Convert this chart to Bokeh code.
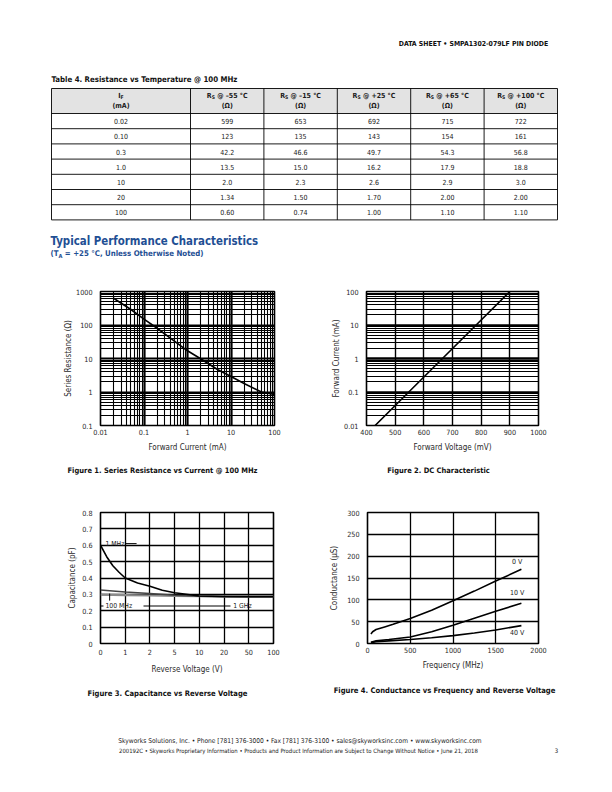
import numpy as np
from bokeh.plotting import figure
from bokeh.layouts import column, row
from bokeh.models import Range1d, FixedTicker, CustomJSTickFormatter
from bokeh.core.properties import value
from bokeh.embed import file_html
from bokeh.resources import INLINE

FONT = "'DejaVu Sans Condensed', 'DejaVu Sans', sans-serif"
BLUE = "#1f4f94"
INK = "#1a1a1a"
NB = "\u00a0"

# ---------------- data ----------------
table_title = "Table 4. Resistance vs Temperature @ 100 MHz"
table_if = ["0.02", "0.10", "0.3", "1.0", "10", "20", "100"]
table_temps = ["–55", "–15", "+25", "+65", "+100"]
rs_m55 = ["599", "123", "42.2", "13.5", "2.0", "1.34", "0.60"]
rs_m15 = ["653", "135", "46.6", "15.0", "2.3", "1.50", "0.74"]
rs_p25 = ["692", "143", "49.7", "16.2", "2.6", "1.70", "1.00"]
rs_p65 = ["715", "154", "54.3", "17.9", "2.9", "2.00", "1.10"]
rs_p100 = ["722", "161", "56.8", "18.8", "3.0", "2.00", "1.10"]

# Figure 1: series resistance vs forward current
f1_if = [0.02, 0.05, 0.1, 0.2, 0.5, 1, 2, 5, 10, 20, 50, 100]
f1_rs = [630, 290, 150, 80, 33, 17, 9.8, 4.6, 2.9, 1.8, 1.0, 0.85]
f1_xticks = [0.01, 0.1, 1, 10, 100]
f1_yticks = [0.1, 1, 10, 100, 1000]

# Figure 2: DC characteristic
f2_vf = [430, 665, 900]
f2_if = [0.01, 1, 100]
f2_xticks = [400, 500, 600, 700, 800, 900, 1000]
f2_yticks = [0.01, 0.1, 1, 10, 100]

# Figure 3: capacitance vs reverse voltage
f3_tick_v = [0, 1, 2, 5, 10, 20, 50, 100]
f3_tick_labels = ["0", "1", "2", "5", "10", "20", "50", "100"]
f3_v_1mhz = [0, 0.25, 0.5, 0.75, 1, 1.5, 2, 3.5, 5, 10, 20, 50, 100]
f3_c_1mhz = [0.60, 0.53, 0.475, 0.435, 0.40, 0.37, 0.35, 0.325, 0.31, 0.29, 0.287, 0.286, 0.286]
f3_v_100mhz = [0, 1, 2, 5, 10, 20, 50, 100]
f3_c_100mhz = [0.326, 0.315, 0.305, 0.295, 0.288, 0.286, 0.286, 0.286]
f3_v_1ghz = [0, 1, 2, 5, 10, 20, 50, 100]
f3_c_1ghz = [0.298, 0.296, 0.293, 0.29, 0.289, 0.288, 0.287, 0.287]
f3_yticks = [0, 0.1, 0.2, 0.3, 0.4, 0.5, 0.6, 0.7, 0.8]

# Figure 4: conductance vs frequency
f4_f0 = [40, 60, 100, 200, 300, 500, 750, 1000, 1250, 1500, 1800]
f4_g0 = [22, 27, 32, 38, 44, 57, 76, 98, 120, 143, 170]
f4_f10 = [40, 100, 250, 500, 750, 1000, 1250, 1500, 1800]
f4_g10 = [3, 6, 9, 15, 27, 42, 58, 74, 92]
f4_f40 = [40, 100, 250, 500, 750, 1000, 1250, 1500, 1800]
f4_g40 = [2, 4, 6, 9, 13, 18, 24, 31, 41]
f4_xticks = [0, 500, 1000, 1500, 2000]
f4_yticks = [0, 50, 100, 150, 200, 250, 300]

# ---------------- helpers ----------------
# approximate DejaVu Sans advance widths (per 1000 em)
W_REG = {' ': 318, NB: 318, '@': 1000, '–': 500, '°': 500, 'C': 698, 'R': 695, 'S': 635, 'I': 295,
         'F': 575, 'A': 684, '+': 838, '(': 390, ')': 390, '=': 838, ',': 318, 'T': 611, '.': 318,
         'U': 732, 'n': 634, 'l': 278, 'e': 615, 's': 521, 'O': 787, 't': 392, 'h': 634, 'r': 411,
         'w': 818, 'i': 278, 'N': 748, 'o': 612, 'd': 635}
W_BOLD = {' ': 348, NB: 348, '@': 1000, '–': 500, '°': 500, 'C': 734, 'R': 770, 'S': 720, 'I': 372,
          'F': 683, 'A': 774, '+': 838, '(': 457, ')': 457, '=': 838, ',': 380, 'T': 682, '.': 380,
          'U': 812, 'n': 712, 'l': 343, 'e': 678, 's': 595, 'O': 850, 't': 478, 'h': 712, 'r': 493,
          'w': 924, 'i': 343, 'N': 837, 'o': 687, 'd': 716}


def tw(s, size, bold):
    d = W_BOLD if bold else W_REG
    dflt = 696 if bold else 636
    return sum(d.get(c, dflt) for c in s) / 1000.0 * size * 0.9


def add_text(p, x, y, s, size, bold=False, color=INK, align="left"):
    p.text(x=[x], y=[y], text=[s], text_font=value(FONT), text_font_size=value(f"{size}px"),
           text_font_style="bold" if bold else "normal", text_color=color,
           text_align=align, text_baseline="middle")


def add_rich(p, x, y, parts, size, bold=False, color=INK, align="center"):
    sizes = [size * 0.72 if sub else size for _, sub in parts]
    widths = [tw(s, sz, bold) for (s, _), sz in zip(parts, sizes)]
    total = sum(widths)
    x0 = x - total / 2 if align == "center" else x
    for (s, sub), sz, w in zip(parts, sizes, widths):
        add_text(p, x0, y + (size * 0.28 if sub else 0), s, round(sz, 2), bold, color, "left")
        x0 += w


def text_band(top, bottom):
    p = figure(width=612, height=bottom - top, x_range=Range1d(0, 612), y_range=Range1d(bottom, top),
               x_axis_type=None, y_axis_type=None, toolbar_location=None, output_backend="svg",
               min_border=0, title=None)
    p.outline_line_color = None
    p.xgrid.visible = False
    p.ygrid.visible = False
    return p


def chart(width, height, bl, br, bt, bb, xr, yr, xt="linear", yt="linear"):
    p = figure(width=width, height=height, x_range=xr, y_range=yr, x_axis_type=xt, y_axis_type=yt,
               min_border_left=bl, min_border_right=br, min_border_top=bt, min_border_bottom=bb,
               toolbar_location=None, output_backend="svg", title=None)
    p.outline_line_color = "black"
    p.outline_line_width = 1.6
    for ax in p.axis:
        ax.axis_line_color = None
        ax.major_tick_line_color = None
        ax.minor_tick_line_color = None
        ax.major_tick_out = 0
        ax.major_tick_in = 0
        ax.minor_tick_out = 0
        ax.minor_tick_in = 0
        ax.major_label_text_font = FONT
        ax.major_label_text_font_size = "7.2px"
        ax.major_label_text_color = "#2a2a2a"
        ax.axis_label_text_font = FONT
        ax.axis_label_text_font_size = "8px"
        ax.axis_label_text_font_style = "normal"
        ax.axis_label_text_color = "#2a2a2a"
    p.xaxis.major_label_standoff = 3
    p.xaxis.axis_label_standoff = 5
    p.yaxis.major_label_standoff = 8
    p.yaxis.axis_label_standoff = 0
    for g in (p.xgrid, p.ygrid):
        g.grid_line_color = "black"
        g.grid_line_width = 1.3
        g.grid_line_alpha = 1.0
    return p


def log_minor(ticks):
    out = []
    for t in ticks[:-1]:
        out += [t * k for k in range(2, 10)]
    return out


plain = CustomJSTickFormatter(code="return tick.toString();")

# ---------------- band A: header, table, headings ----------------
A = text_band(0, 284)
add_text(A, 552, 43, "DATA SHEET  •  SMPA1302-079LF PIN DIODE", 6.9, True, "#111111", "right")
add_text(A, 51, 79, table_title, 7.8, True, "#111111")

col_edges = [51, 190, 263.4, 336.8, 410.2, 483.6, 557]
t_top, h_bot, row_h = 88, 113, 15.2
n_rows = len(table_if)
t_bot = h_bot + row_h * n_rows
A.quad(left=[col_edges[0]], right=[col_edges[-1]], top=[t_top], bottom=[h_bot],
       fill_color="#e3e3e3", line_color=None)
hy = [t_top, h_bot] + [h_bot + row_h * (k + 1) for k in range(n_rows)]
A.segment(x0=[col_edges[0]] * len(hy), x1=[col_edges[-1]] * len(hy), y0=hy, y1=hy,
          line_color="black", line_width=0.9)
A.segment(x0=col_edges, x1=col_edges, y0=[t_top] * len(col_edges), y1=[t_bot] * len(col_edges),
          line_color="black", line_width=0.9)
centers = [(col_edges[i] + col_edges[i + 1]) / 2 for i in range(len(col_edges) - 1)]
add_rich(A, centers[0], 95, [("I", False), ("F", True)], 7, True)
add_text(A, centers[0], 105, "(mA)", 7, True, INK, "center")
for c, t in zip(centers[1:], table_temps):
    add_rich(A, c, 95, [("R", False), ("S", True), (f"{NB}@ {t} °C", False)], 7, True)
    add_text(A, c, 105, "(Ω)", 7, True, INK, "center")
columns_data = [table_if, rs_m55, rs_m15, rs_p25, rs_p65, rs_p100]
for c, vals in zip(centers, columns_data):
    ys = [h_bot + row_h * (k + 0.5) for k in range(n_rows)]
    A.text(x=[c] * n_rows, y=ys, text=vals, text_font=value(FONT), text_font_size=value("7px"),
           text_color=INK, text_align="center", text_baseline="middle")

add_text(A, 50, 240, "Typical Performance Characteristics", 11.4, True, BLUE)
add_rich(A, 50, 253, [("(T", False), ("A", True), (f"{NB}= +25 °C, Unless Otherwise Noted)", False)],
         7.8, True, BLUE, "left")

# ---------------- band B: figures 1 and 2 ----------------
p1 = chart(306, 174, 100, 32, 7, 33, Range1d(0.01, 100), Range1d(0.1, 1000), "log", "log")
p1.xaxis.ticker = FixedTicker(ticks=f1_xticks, minor_ticks=log_minor(f1_xticks))
p1.yaxis.ticker = FixedTicker(ticks=f1_yticks, minor_ticks=log_minor(f1_yticks))
p1.xaxis.formatter = plain
p1.yaxis.formatter = plain
p1.xaxis.axis_label = "Forward Current (mA)"
p1.yaxis.axis_label = "Series Resistance (Ω)"
for g in (p1.xgrid, p1.ygrid):
    g.minor_grid_line_color = "black"
    g.minor_grid_line_width = 1.1
    g.grid_line_width = 2.2
p1.line(f1_if, f1_rs, line_color="black", line_width=1.6)

p2 = chart(306, 174, 60, 74, 7, 33, Range1d(400, 1000), Range1d(0.01, 100), "linear", "log")
p2.xaxis.ticker = FixedTicker(ticks=f2_xticks)
p2.yaxis.ticker = FixedTicker(ticks=f2_yticks, minor_ticks=log_minor(f2_yticks))
p2.yaxis.formatter = plain
p2.xaxis.axis_label = "Forward Voltage (mV)"
p2.yaxis.axis_label = "Forward Current (mA)"
p2.xgrid.grid_line_width = 1.4
p2.ygrid.grid_line_width = 2.4
p2.ygrid.minor_grid_line_color = "black"
p2.ygrid.minor_grid_line_width = 1.0
p2.line(f2_vf, f2_if, line_color="black", line_width=1.6)

# ---------------- band C: captions 1, 2 ----------------
C = text_band(458, 504)
add_text(C, 162, 470, "Figure 1. Series Resistance vs Current @ 100 MHz", 7.5, True, "#111111", "center")
add_text(C, 438, 470, "Figure 2. DC Characteristic", 7.5, True, "#111111", "center")

# ---------------- band D: figures 3 and 4 ----------------
idx = np.arange(len(f3_tick_v))


def vpos(v):
    return np.interp(v, f3_tick_v, idx)


p3 = chart(306, 180, 100, 33, 8, 38, Range1d(0, 7), Range1d(0, 0.8))
p3.xaxis.ticker = FixedTicker(ticks=list(idx))
p3.xaxis.major_label_overrides = {int(i): s for i, s in zip(idx, f3_tick_labels)}
p3.yaxis.ticker = FixedTicker(ticks=f3_yticks)
p3.yaxis.formatter = CustomJSTickFormatter(code="return tick == 0 ? '0' : tick.toFixed(1);")
p3.xaxis.axis_label = "Reverse Voltage (V)"
p3.yaxis.axis_label = "Capacitance (pF)"
p3.xaxis.major_label_standoff = 5
p3.xaxis.axis_label_standoff = 7
p3.yaxis.axis_label_standoff = 2
p3.line(vpos(f3_v_1ghz), f3_c_1ghz, line_color="#8a8a8a", line_width=2.2)
p3.line(vpos(f3_v_100mhz), f3_c_100mhz, line_color="#444444", line_width=1.5)
p3.line(vpos(f3_v_1mhz), f3_c_1mhz, line_color="black", line_width=1.6)
# labels and leader lines
p3.text(x=[0.2, 0.2, 5.37], y=[0.61, 0.229, 0.229], text=["1 MHz", "100 MHz", "1 GHz"],
        text_font=value(FONT), text_font_size=value("6.8px"), text_color=INK,
        text_align="left", text_baseline="middle")
p3.segment(x0=[0.99, 0.0, 1.74, 0.37], x1=[1.46, 0.12, 5.26, 0.37],
           y0=[0.61, 0.229, 0.229, 0.262], y1=[0.61, 0.229, 0.229, 0.305],
           line_color="black", line_width=1.0)

p4 = chart(306, 180, 61, 74, 8, 41, Range1d(0, 2000), Range1d(0, 300))
p4.xaxis.ticker = FixedTicker(ticks=f4_xticks)
p4.yaxis.ticker = FixedTicker(ticks=f4_yticks)
p4.xaxis.axis_label = "Frequency (MHz)"
p4.yaxis.axis_label = "Conductance (µS)"
p4.yaxis.axis_label_standoff = 5
p4.xaxis.major_label_standoff = 3
p4.xaxis.axis_label_standoff = 5
p4.line(f4_f0, f4_g0, line_color="black", line_width=1.6)
p4.line(f4_f10, f4_g10, line_color="black", line_width=1.6)
p4.line(f4_f40, f4_g40, line_color="black", line_width=1.6)
p4.text(x=[1750, 1750, 1750], y=[186, 115, 25], text=["0 V", "10 V", "40 V"],
        text_font=value(FONT), text_font_size=value("7px"), text_color=INK,
        text_align="center", text_baseline="middle")

# ---------------- band E: captions 3, 4 and footer ----------------
E = text_band(684, 792)
add_text(E, 167, 693, "Figure 3. Capacitance vs Reverse Voltage", 7.6, True, "#111111", "center")
add_text(E, 444, 690, "Figure 4. Conductance vs Frequency and Reverse Voltage", 7.6, True, "#111111", "center")
add_text(E, 307, 740, "Skyworks Solutions, Inc.  •  Phone [781] 376-3000  •  Fax [781] 376-3100  •  "
         "sales@skyworksinc.com  •  www.skyworksinc.com", 6.6, False, "#1a1a1a", "center")
add_text(E, 303, 750, "200192C  •  Skyworks Proprietary Information  •  Products and Product Information "
         "are Subject to Change Without Notice  •  June 21, 2018", 5.9, False, "#1a1a1a", "center")
add_text(E, 556, 750, "3", 6, False, "#1a1a1a", "center")

layout = column(A, row(p1, p2), C, row(p3, p4), E)
open("out.html", "w").write(file_html(layout, INLINE))
